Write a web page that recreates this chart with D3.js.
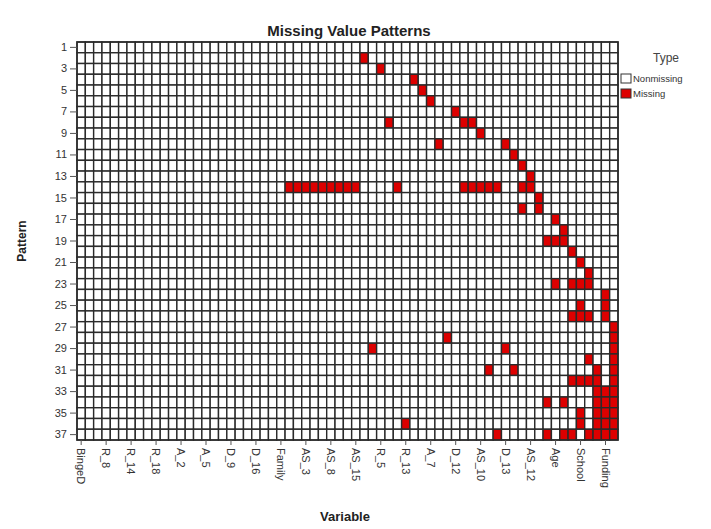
<!DOCTYPE html>
<html>
<head>
<meta charset="utf-8">
<script src="https://cdn.jsdelivr.net/npm/d3@7"></script>
<style>
  html, body { margin: 0; padding: 0; background: #fff; }
  svg { display: block; font-family: "Liberation Sans", Arial, sans-serif; }
</style>
</head>
<body>
<svg id="chart" width="711" height="529"></svg>
<script>
// Missing value patterns: rows are patterns, columns are variables.
const variableCount = 65;
const patternCount = 37;

// Every third variable carries a label on the x axis.
const variableLabels = [
  "BingeD", "R_8", "R_14", "R_18", "A_2", "A_5", "D_9", "D_16", "Family",
  "AS_3", "AS_8", "AS_15", "R_5", "R_13", "A_7", "D_12", "AS_10", "D_13",
  "AS_12", "Age", "School", "Funding"
];
const patternTicks = [1, 3, 5, 7, 9, 11, 13, 15, 17, 19, 21, 23, 25, 27, 29, 31, 33, 35, 37];

// Column indexes of the missing variables, one list per pattern (1..37).
const missingByPattern = [
  [],
  [34],
  [36],
  [40],
  [41],
  [42],
  [45],
  [37, 46, 47],
  [48],
  [43, 51],
  [52],
  [53],
  [54],
  [25, 26, 27, 28, 29, 30, 31, 32, 33, 38, 46, 47, 48, 49, 50, 53, 54],
  [55],
  [53, 55],
  [57],
  [58],
  [56, 57, 58],
  [59],
  [60],
  [61],
  [57, 59, 60, 61],
  [63],
  [60, 63],
  [59, 60, 61, 63],
  [64],
  [44, 64],
  [35, 51, 64],
  [61, 64],
  [49, 52, 62, 64],
  [59, 60, 61, 62, 64],
  [62, 63, 64],
  [56, 58, 62, 63, 64],
  [60, 62, 63, 64],
  [39, 60, 62, 63, 64],
  [50, 56, 58, 59, 61, 62, 63, 64]
];

const legendItems = [
  { label: "Nonmissing", color: "#ffffff" },
  { label: "Missing", color: "#dd0000" }
];

const svg = d3.select("#chart");
const plot = { left: 77, top: 42, right: 618, bottom: 440 };

const columns = d3.range(variableCount);
const patterns = d3.range(1, patternCount + 1);

const x = d3.scaleBand().domain(columns).range([plot.left, plot.right]).padding(0);
const y = d3.scaleBand().domain(patterns).range([plot.top, plot.bottom]).padding(0);

// Flatten into one record per cell.
const cells = [];
patterns.forEach((p, i) => {
  const miss = new Set(missingByPattern[i]);
  columns.forEach(c => cells.push({ pattern: p, col: c, missing: miss.has(c) }));
});

svg.append("g")
  .selectAll("rect")
  .data(cells)
  .join("rect")
  .attr("x", d => x(d.col))
  .attr("y", d => y(d.pattern))
  .attr("width", x.bandwidth())
  .attr("height", y.bandwidth())
  .attr("fill", d => d.missing ? legendItems[1].color : legendItems[0].color)
  .attr("stroke", "#2a2a2a")
  .attr("stroke-width", 1.4);

svg.append("rect")
  .attr("x", plot.left).attr("y", plot.top)
  .attr("width", plot.right - plot.left).attr("height", plot.bottom - plot.top)
  .attr("fill", "none").attr("stroke", "#2a2a2a").attr("stroke-width", 1.5);

// Y axis
const yAxis = svg.append("g")
  .attr("transform", `translate(${plot.left},0)`)
  .call(d3.axisLeft(y).tickValues(patternTicks).tickSize(7).tickPadding(3));
yAxis.select(".domain").remove();
yAxis.selectAll(".tick line").attr("stroke", "#555");
yAxis.selectAll(".tick text").attr("fill", "#333").style("font-size", "11px")
  .style("font-family", "'Liberation Sans', Arial, sans-serif");

// X axis with vertical labels
const labelled = columns.filter(c => c % 3 === 0);
const xAxis = svg.append("g")
  .attr("transform", `translate(0,${plot.bottom})`)
  .call(d3.axisBottom(x).tickValues(labelled)
    .tickFormat(c => variableLabels[c / 3]).tickSize(5).tickPadding(3));
xAxis.select(".domain").remove();
xAxis.selectAll(".tick line").attr("stroke", "#555");
xAxis.selectAll(".tick text")
  .attr("fill", "#333")
  .style("font-size", "11px")
  .style("font-family", "'Liberation Sans', Arial, sans-serif")
  .attr("text-anchor", "start")
  .attr("dy", "0.35em")
  .attr("transform", "translate(0,8) rotate(90)")
  .attr("x", 0).attr("y", 0);

// Titles
svg.append("text")
  .attr("x", 349).attr("y", 36)
  .attr("text-anchor", "middle")
  .style("font-size", "15px").style("font-weight", "bold").attr("fill", "#222")
  .text("Missing Value Patterns");

svg.append("text")
  .attr("transform", `translate(26,${(plot.top + plot.bottom) / 2}) rotate(-90)`)
  .attr("text-anchor", "middle")
  .style("font-size", "12px").style("font-weight", "bold").attr("fill", "#222")
  .text("Pattern");

svg.append("text")
  .attr("x", 345).attr("y", 521)
  .attr("text-anchor", "middle")
  .style("font-size", "13px").style("font-weight", "bold").attr("fill", "#222")
  .text("Variable");

// Legend
const legend = svg.append("g").attr("transform", "translate(621,0)");
legend.append("text")
  .attr("x", 45).attr("y", 62)
  .attr("text-anchor", "middle")
  .style("font-size", "12px").attr("fill", "#444")
  .text("Type");
const li = legend.selectAll("g.item").data(legendItems).join("g")
  .attr("class", "item")
  .attr("transform", (d, i) => `translate(0,${74 + i * 15})`);
li.append("rect")
  .attr("width", 10).attr("height", 9)
  .attr("fill", d => d.color).attr("stroke", "#333").attr("stroke-width", 1);
li.append("text")
  .attr("x", 12).attr("y", 4.5).attr("dy", "0.35em")
  .style("font-size", "9.5px").attr("fill", "#333")
  .text(d => d.label);
</script>
</body>
</html>
